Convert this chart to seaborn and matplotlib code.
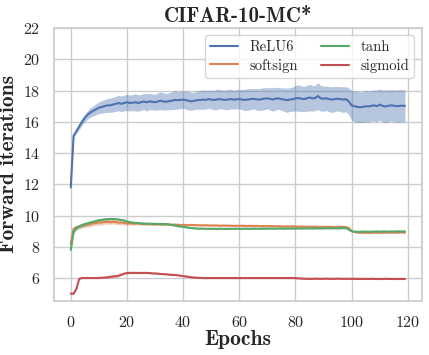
import numpy as np
import pandas as pd
import matplotlib
matplotlib.use("Agg")
import matplotlib.pyplot as plt
import seaborn as sns

# --- data (mean and spread per epoch) ---
epochs = list(range(120))

relu6_mean = [
    11.8, 15.1, 15.4, 15.7, 16.0, 16.25, 16.45, 16.6, 16.7, 16.8,
    16.9, 16.95, 17.0, 17.05, 17.05, 17.1, 17.15, 17.2, 17.15, 17.2,
    17.25, 17.2, 17.22, 17.25, 17.2, 17.25, 17.3, 17.25, 17.3, 17.28,
    17.25, 17.3, 17.35, 17.3, 17.28, 17.32, 17.35, 17.4, 17.38, 17.4,
    17.42, 17.38, 17.35, 17.3, 17.35, 17.38, 17.4, 17.42, 17.4, 17.45,
    17.42, 17.4, 17.43, 17.45, 17.42, 17.4, 17.43, 17.45, 17.42, 17.44,
    17.45, 17.42, 17.4, 17.43, 17.45, 17.47, 17.44, 17.42, 17.45, 17.48,
    17.5, 17.46, 17.43, 17.48, 17.5, 17.45, 17.42, 17.38, 17.42, 17.45,
    17.5, 17.52, 17.48, 17.45, 17.5, 17.55, 17.5, 17.52, 17.65, 17.5,
    17.48, 17.5, 17.45, 17.42, 17.45, 17.48, 17.45, 17.42, 17.45, 17.3,
    17.05, 17.0, 16.95, 16.93, 16.95, 17.0, 16.98, 17.02, 17.05, 17.0,
    17.1, 17.02, 16.98, 17.02, 17.05, 17.03, 17.0, 17.02, 17.03, 17.02,
]
relu6_std = [
    0.05, 0.1, 0.15, 0.2, 0.22, 0.25, 0.28, 0.3, 0.32, 0.35,
    0.37, 0.4, 0.42, 0.44, 0.45, 0.47, 0.48, 0.5, 0.5, 0.5,
    0.52, 0.5, 0.52, 0.55, 0.53, 0.5, 0.52, 0.55, 0.53, 0.5,
    0.52, 0.55, 0.57, 0.55, 0.52, 0.55, 0.58, 0.6, 0.57, 0.55,
    0.55, 0.58, 0.6, 0.57, 0.55, 0.58, 0.6, 0.62, 0.6, 0.58,
    0.6, 0.62, 0.65, 0.62, 0.6, 0.62, 0.65, 0.63, 0.6, 0.62,
    0.62, 0.65, 0.68, 0.7, 0.67, 0.65, 0.68, 0.7, 0.72, 0.7,
    0.68, 0.72, 0.75, 0.73, 0.7, 0.72, 0.75, 0.78, 0.75, 0.78,
    0.8, 0.85, 0.82, 0.8, 0.83, 0.85, 0.82, 0.8, 0.85, 0.82,
    0.8, 0.78, 0.8, 0.82, 0.8, 0.78, 0.8, 0.82, 0.8, 0.85,
    0.95, 1.0, 1.0, 0.98, 1.0, 1.02, 1.0, 0.98, 1.0, 1.02,
    1.0, 1.02, 1.05, 1.03, 1.0, 1.02, 1.03, 1.05, 1.03, 1.02,
]

softsign_mean = [
    8.2, 9.15, 9.25, 9.3, 9.35, 9.38, 9.42, 9.45, 9.5, 9.52,
    9.55, 9.55, 9.58, 9.6, 9.58, 9.6, 9.58, 9.55, 9.55, 9.52,
    9.5, 9.5, 9.48, 9.48, 9.5, 9.47, 9.46, 9.45, 9.45, 9.44,
    9.43, 9.44, 9.43, 9.42, 9.43, 9.42, 9.41, 9.42, 9.41, 9.4,
    9.4, 9.4, 9.39, 9.4, 9.39, 9.38, 9.38, 9.37, 9.38, 9.37,
    9.36, 9.37, 9.36, 9.35, 9.36, 9.35, 9.36, 9.35, 9.34, 9.35,
    9.34, 9.35, 9.34, 9.33, 9.34, 9.33, 9.34, 9.33, 9.32, 9.33,
    9.32, 9.33, 9.32, 9.31, 9.32, 9.31, 9.3, 9.31, 9.3, 9.31,
    9.3, 9.29, 9.3, 9.29, 9.28, 9.29, 9.28, 9.29, 9.28, 9.27,
    9.28, 9.27, 9.28, 9.27, 9.26, 9.27, 9.28, 9.27, 9.26, 9.2,
    9.0, 8.95, 8.92, 8.9, 8.9, 8.91, 8.9, 8.9, 8.91, 8.9,
    8.91, 8.9, 8.91, 8.92, 8.91, 8.92, 8.91, 8.92, 8.92, 8.92,
]
softsign_std = [
    0.1, 0.12, 0.12, 0.14, 0.15, 0.15, 0.16, 0.15, 0.14, 0.15,
    0.16, 0.15, 0.14, 0.15, 0.14, 0.13, 0.14, 0.13, 0.12, 0.12,
    0.11, 0.1, 0.1, 0.1, 0.09, 0.08, 0.08, 0.08, 0.07, 0.07,
    0.07, 0.06, 0.06, 0.06, 0.06, 0.06, 0.05, 0.05, 0.05, 0.05,
] + [0.05] * 60 + [0.06] * 20

tanh_mean = [
    7.8, 8.95, 9.2, 9.3, 9.38, 9.45, 9.5, 9.55, 9.6, 9.65,
    9.7, 9.72, 9.75, 9.77, 9.78, 9.78, 9.77, 9.75, 9.72, 9.68,
    9.62, 9.58, 9.55, 9.53, 9.52, 9.5, 9.49, 9.48, 9.48, 9.47,
    9.47, 9.46, 9.46, 9.45, 9.45, 9.43, 9.4, 9.36, 9.32, 9.3,
    9.28, 9.25, 9.22, 9.2, 9.18, 9.17, 9.16, 9.16, 9.15, 9.15,
    9.15, 9.15, 9.14, 9.15, 9.15, 9.14, 9.15, 9.15, 9.15, 9.16,
    9.15, 9.15, 9.16, 9.15, 9.15, 9.16, 9.16, 9.15, 9.16, 9.16,
    9.16, 9.17, 9.16, 9.16, 9.17, 9.17, 9.16, 9.17, 9.17, 9.17,
    9.17, 9.18, 9.17, 9.17, 9.18, 9.18, 9.17, 9.18, 9.18, 9.18,
    9.18, 9.19, 9.18, 9.19, 9.19, 9.18, 9.19, 9.2, 9.19, 9.1,
    9.0, 8.97, 8.96, 8.96, 8.97, 8.97, 8.96, 8.97, 8.97, 8.98,
    8.97, 8.98, 8.98, 8.97, 8.98, 8.98, 8.98, 8.99, 8.98, 8.98,
]
tanh_std = [
    0.1, 0.15, 0.15, 0.14, 0.13, 0.12, 0.12, 0.11, 0.1, 0.1,
    0.1, 0.09, 0.08, 0.08, 0.07, 0.07, 0.06, 0.06, 0.05, 0.05,
] + [0.04] * 100

sigmoid_mean = [
    5.0, 5.0, 5.3, 5.95, 6.0, 6.0, 6.0, 6.0, 6.0, 6.0,
    6.0, 6.02, 6.03, 6.05, 6.08, 6.1, 6.12, 6.15, 6.22, 6.28,
    6.32, 6.33, 6.33, 6.33, 6.33, 6.32, 6.33, 6.33, 6.32, 6.3,
    6.3, 6.28, 6.26, 6.25, 6.24, 6.22, 6.2, 6.2, 6.18, 6.15,
    6.12, 6.1, 6.07, 6.05, 6.03, 6.02, 6.01, 6.0, 6.0, 6.0,
    6.0, 6.0, 6.0, 6.0, 6.0, 6.0, 6.0, 6.0, 6.0, 6.0,
    6.0, 6.0, 6.0, 6.0, 6.0, 6.0, 6.0, 6.0, 6.0, 6.0,
    6.0, 6.0, 6.0, 6.0, 6.0, 6.0, 6.0, 6.0, 6.0, 6.0,
    6.0, 5.98, 5.97, 5.96, 5.95, 5.95, 5.95, 5.96, 5.95, 5.95,
    5.95, 5.96, 5.95, 5.95, 5.95, 5.96, 5.95, 5.95, 5.95, 5.95,
    5.95, 5.95, 5.94, 5.95, 5.94, 5.95, 5.94, 5.95, 5.94, 5.94,
    5.94, 5.94, 5.95, 5.94, 5.94, 5.94, 5.94, 5.94, 5.94, 5.94,
]
sigmoid_std = [0.03] * 12 + [0.06, 0.07, 0.08, 0.08, 0.08, 0.08, 0.07, 0.06,
                            0.06, 0.06, 0.05, 0.05, 0.05, 0.05, 0.05, 0.05,
                            0.05, 0.05] + [0.04] * 90

series_names = ["ReLU6", "softsign", "tanh", "sigmoid"]
means = [relu6_mean, softsign_mean, tanh_mean, sigmoid_mean]
stds = [relu6_std, softsign_std, tanh_std, sigmoid_std]

# --- style ---
sns.set_theme(style="whitegrid", palette="deep")
plt.rcParams["font.family"] = ["cmr10", "DejaVu Serif"]
plt.rcParams["axes.formatter.use_mathtext"] = True

colors = sns.color_palette("deep", 4)

frames = []
for name, m in zip(series_names, means):
    frames.append(pd.DataFrame({"epoch": epochs, "iters": m, "act": name}))
df = pd.concat(frames, ignore_index=True)

fig = plt.figure(figsize=(4.29, 3.55), dpi=100)
ax = fig.add_axes([0.126, 0.153, 0.857, 0.768])

# shaded spread around each curve
for name, m, s, c in zip(series_names, means, stds, colors):
    m = np.array(m)
    s = np.array(s)
    ax.fill_between(epochs, m - s, m + s, color=c, alpha=0.4, linewidth=0)

sns.lineplot(data=df, x="epoch", y="iters", hue="act", hue_order=series_names,
             palette=colors, linewidth=1.5, ax=ax)

ax.set_ylim(4.55, 22)
ax.set_yticks(range(6, 23, 2))
ax.set_xticks(range(0, 121, 20))
ax.tick_params(labelsize=11.5, pad=4)

ax.set_title("CIFAR-10-MC*", fontsize=15, family="cmb10", pad=4)
ax.set_xlabel("Epochs", fontsize=15.5, family="cmb10", labelpad=0)
ax.set_ylabel("Forward iterations", fontsize=15.5, family="cmb10", labelpad=3)

leg = ax.legend(loc="upper right", ncol=2, fontsize=10.5, frameon=True,
                handlelength=1.9, columnspacing=1.6, labelspacing=0.3,
                borderpad=0.35, handletextpad=0.8)
leg.set_title(None)

fig.savefig("out.png", dpi=100)
